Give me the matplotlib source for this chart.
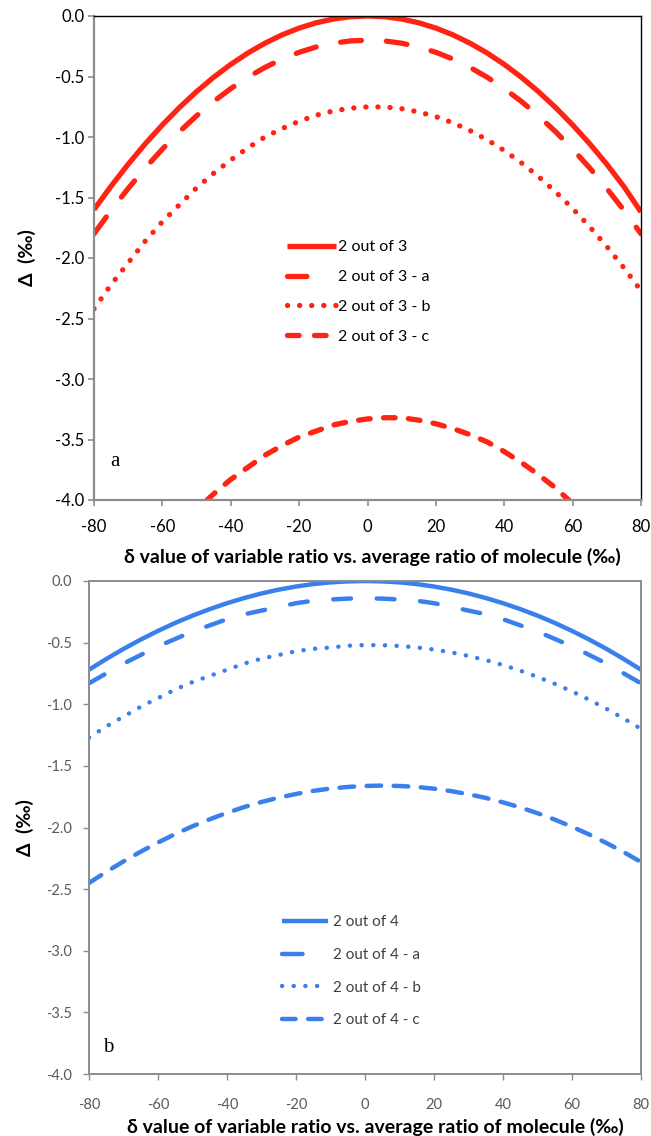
import matplotlib
matplotlib.use("Agg")
import matplotlib.pyplot as plt
from matplotlib.lines import Line2D

plt.rcParams['font.family'] = ['Lato', 'DejaVu Sans']
plt.rcParams['lines.scale_dashes'] = False
plt.rcParams['axes.unicode_minus'] = False

# delta value of the variable ratio (per mil), every 5 per mil
delta = list(range(-80, 85, 5))

# Panel a: 2 out of 3
two_of_three = [-1.600, -1.406, -1.225, -1.056, -0.900, -0.756, -0.625, -0.506, -0.400,
                -0.306, -0.225, -0.156, -0.100, -0.056, -0.025, -0.006, 0.000,
                -0.006, -0.025, -0.056, -0.100, -0.156, -0.225, -0.306, -0.400,
                -0.506, -0.625, -0.756, -0.900, -1.056, -1.225, -1.410, -1.620]
two_of_three_a = [-1.800, -1.606, -1.425, -1.256, -1.100, -0.956, -0.825, -0.706, -0.600,
                  -0.506, -0.425, -0.356, -0.300, -0.256, -0.225, -0.206, -0.200,
                  -0.206, -0.225, -0.256, -0.300, -0.356, -0.425, -0.506, -0.600,
                  -0.706, -0.825, -0.956, -1.100, -1.256, -1.425, -1.606, -1.800]
two_of_three_b = [-2.420, -2.220, -2.040, -1.860, -1.700, -1.560, -1.420, -1.300, -1.190,
                  -1.090, -1.000, -0.930, -0.870, -0.820, -0.785, -0.762, -0.751,
                  -0.752, -0.766, -0.793, -0.832, -0.883, -0.947, -1.023, -1.112,
                  -1.213, -1.327, -1.453, -1.591, -1.742, -1.905, -2.081, -2.270]
two_of_three_c = [-5.11, -4.91, -4.72, -4.54, -4.37, -4.22, -4.08, -3.95, -3.83,
                  -3.73, -3.63, -3.55, -3.48, -3.43, -3.38, -3.35, -3.33,
                  -3.32, -3.32, -3.34, -3.37, -3.41, -3.46, -3.52, -3.60,
                  -3.69, -3.79, -3.90, -4.03, -4.16, -4.31, -4.47, -4.65]

# Panel b: 2 out of 4
two_of_four = [-0.720, -0.633, -0.551, -0.475, -0.405, -0.340, -0.281, -0.228, -0.180,
               -0.138, -0.101, -0.070, -0.045, -0.025, -0.011, -0.003, 0.000,
               -0.003, -0.011, -0.025, -0.045, -0.070, -0.101, -0.138, -0.180,
               -0.228, -0.281, -0.340, -0.405, -0.475, -0.551, -0.633, -0.720]
two_of_four_a = [-0.830, -0.750, -0.670, -0.600, -0.530, -0.470, -0.410, -0.360, -0.310,
                 -0.270, -0.240, -0.210, -0.180, -0.160, -0.150, -0.143, -0.140,
                 -0.143, -0.150, -0.160, -0.180, -0.210, -0.240, -0.270, -0.310,
                 -0.360, -0.410, -0.470, -0.530, -0.600, -0.670, -0.750, -0.830]
two_of_four_b = [-1.270, -1.180, -1.100, -1.020, -0.950, -0.880, -0.820, -0.770, -0.720,
                 -0.670, -0.630, -0.600, -0.570, -0.550, -0.540, -0.525, -0.520,
                 -0.521, -0.527, -0.539, -0.556, -0.579, -0.608, -0.642, -0.682,
                 -0.727, -0.778, -0.834, -0.896, -0.964, -1.037, -1.116, -1.200]
two_of_four_c = [-2.450, -2.360, -2.275, -2.196, -2.122, -2.053, -1.990, -1.933, -1.881,
                 -1.834, -1.793, -1.758, -1.728, -1.703, -1.684, -1.671, -1.663,
                 -1.660, -1.663, -1.671, -1.685, -1.705, -1.730, -1.760, -1.796,
                 -1.837, -1.884, -1.936, -1.994, -2.057, -2.126, -2.200, -2.280]

labels_a = ["2 out of 3", "2 out of 3 - a", "2 out of 3 - b", "2 out of 3 - c"]
labels_b = ["2 out of 4", "2 out of 4 - a", "2 out of 4 - b", "2 out of 4 - c"]

x_ticks = [-80, -60, -40, -20, 0, 20, 40, 60, 80]
y_ticks = [0.0, -0.5, -1.0, -1.5, -2.0, -2.5, -3.0, -3.5, -4.0]

RED = "#FF2314"
BLUE = "#3A80EC"
GREY = "#8C8C8C"
XLABEL = "δ value of variable ratio vs. average ratio of molecule (‰)"
YLABEL = "Δ  (‰)"

fig = plt.figure(figsize=(6.51, 11.36), dpi=100)
ax_a = fig.add_axes([94 / 651, 1 - 500 / 1136, 547 / 651, 484 / 1136])
ax_b = fig.add_axes([89 / 651, 1 - 1074 / 1136, 552 / 651, 493 / 1136])


def draw_panel(ax, series, labels, color, lw, styles, legend_styles):
    handles = []
    for y, lab, ls, lls in zip(series, labels, styles, legend_styles):
        ax.plot(delta, y, color=color, lw=lw, linestyle=ls,
                solid_capstyle='butt', dash_capstyle='round')
        handles.append(Line2D([], [], color=color, lw=lw, linestyle=lls,
                              solid_capstyle='butt', dash_capstyle='round',
                              label=lab))
    ax.set_xlim(-80, 80)
    ax.set_ylim(-4.0, 0.0)
    ax.set_xticks(x_ticks)
    ax.set_yticks(y_ticks)
    ax.set_yticklabels([f"{v:.1f}" for v in y_ticks])
    return handles


# ---- panel a ----
h_a = draw_panel(ax_a, [two_of_three, two_of_three_a, two_of_three_b, two_of_three_c],
                 labels_a, RED, 3.8,
                 ['-', (0, (15, 18)), (0, (0.1, 8.6)), (0, (8.4, 9.6))],
                 ['-', (0, (14, 60)), (0, (0.1, 8.6)), (0, (8.4, 11))])
for side in ('left', 'bottom'):
    ax_a.spines[side].set_color(GREY)
    ax_a.spines[side].set_linewidth(1.6)
for side in ('top', 'right'):
    ax_a.spines[side].set_color('black')
    ax_a.spines[side].set_linewidth(1.0)
ax_a.tick_params(axis='both', direction='out', length=4, width=1.2, color=GREY,
                 labelsize=12, labelcolor='black')
ax_a.tick_params(axis='x', pad=10)
ax_a.tick_params(axis='y', pad=3)
fig.text(372 / 651, 1 - 557 / 1136, XLABEL, fontsize=14, fontweight='bold',
         ha='center', va='center')
fig.text(27 / 651, 1 - 258 / 1136, YLABEL, fontsize=14, fontweight='bold',
         rotation=90, ha='center', va='center')
ax_a.text(0.03, 0.07, "a", transform=ax_a.transAxes, fontsize=15,
          family='Liberation Serif')
ax_a.legend(handles=h_a, loc='upper left', bbox_to_anchor=(0.352, 0.537),
            frameon=False, fontsize=11.5, handlelength=3.1, handletextpad=0.15,
            labelspacing=0.98, borderpad=0, borderaxespad=0)

# ---- panel b ----
h_b = draw_panel(ax_b, [two_of_four, two_of_four_a, two_of_four_b, two_of_four_c],
                 labels_b, BLUE, 3.2,
                 ['-', (0, (12.8, 18.5)), (0, (0.1, 8.3)), (0, (10.5, 9))],
                 ['-', (0, (14.8, 60)), (0, (0.1, 8.3)), (0, (9.8, 9))])
for side in ax_b.spines:
    ax_b.spines[side].set_color(GREY)
    ax_b.spines[side].set_linewidth(1.4)
ax_b.tick_params(axis='both', direction='out', length=4, width=1.0, color=GREY,
                 labelsize=10.5, labelcolor='#5A5A5A')
ax_b.tick_params(axis='x', pad=13)
ax_b.tick_params(axis='y', pad=8.5)
fig.text(375 / 651, 1 - 1127 / 1136, XLABEL, fontsize=14, fontweight='bold',
         ha='center', va='center')
fig.text(25 / 651, 1 - 828 / 1136, YLABEL, fontsize=14, fontweight='bold',
         rotation=90, ha='center', va='center')
ax_b.text(0.025, 0.045, "b", transform=ax_b.transAxes, fontsize=15,
          family='Liberation Serif')
leg_b = ax_b.legend(handles=h_b, loc='upper left', bbox_to_anchor=(0.35, 0.322),
                    frameon=False, fontsize=11, handlelength=3.0, handletextpad=0.3,
                    labelspacing=1.22, borderpad=0, borderaxespad=0)
for t in leg_b.get_texts():
    t.set_color('#404040')

fig.savefig("out.png", dpi=100)
